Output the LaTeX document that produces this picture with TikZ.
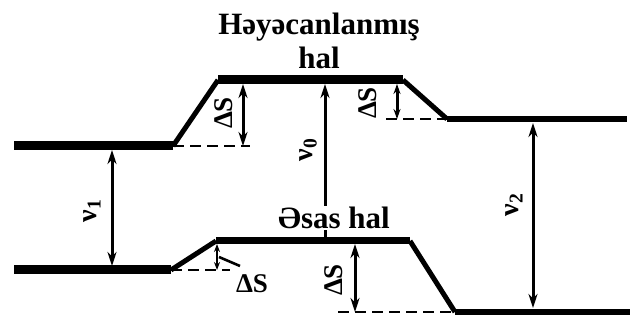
\documentclass[tikz,border=0pt]{standalone}
\usepackage{fontspec}
\setmainfont{Liberation Serif}
\usetikzlibrary{arrows.meta}
\begin{document}
\begin{tikzpicture}[x=1pt,y=-1pt,
  level/.style={line width=9pt},
  slope/.style={line width=5pt},
  dashline/.style={line width=2.6pt,dash pattern=on 11pt off 6pt},
  arr/.style={line width=3pt,-{Stealth[length=14pt,width=9pt]}},
  darr/.style={line width=3pt,{Stealth[length=14pt,width=9pt]}-{Stealth[length=14pt,width=9pt]}},
  big/.style={font=\fontsize{31}{33}\selectfont\bfseries},
  lab/.style={font=\fontsize{27}{30}\selectfont\bfseries,inner sep=0pt},
  nulab/.style={font=\fontsize{28}{30}\selectfont\bfseries,inner sep=0pt}]
\useasboundingbox (0,0) rectangle (630,320);
\coordinate (A1) at (14,146); \coordinate (A2) at (173,146);
\coordinate (B1) at (218,80);  \coordinate (B2) at (403,80);
\coordinate (C1) at (447,119); \coordinate (C2) at (627,119);
\coordinate (D1) at (14,270);  \coordinate (D2) at (171,270);
\coordinate (E1) at (216,241); \coordinate (E2) at (410,241);
\coordinate (F1) at (455,312); \coordinate (F2) at (630,312);
% levels
\draw[level] (A1) -- (A2);
\draw[slope] (A2) -- (B1);
\draw[level] (B1) -- (B2);
\draw[slope] (B2) -- (C1);
\draw[line width=6.5pt] (C1) -- (C2);
\draw[level] (D1) -- (D2);
\draw[slope] (D2) -- (E1);
\draw[line width=7pt] (E1) -- (E2);
\draw[slope] (E2) -- (F1);
\draw[line width=6.5pt] (F1) -- (F2);
% dashed reference lines
\coordinate (a3) at (250,146);
\coordinate (c0) at (386,119);
\coordinate (d3) at (230,270);
\coordinate (f0) at (338,312);
\draw[dashline] (A2) -- (a3);
\draw[dashline] (c0) -- (C1);
\draw[dashline] (D2) -- (d3);
\draw[dashline] (f0) -- (F1);
% Delta S arrows
\coordinate (s1t) at (243,84); \coordinate (s1b) at (243,146);
\coordinate (s2t) at (397,84); \coordinate (s2b) at (397,119);
\coordinate (s3t) at (217,244); \coordinate (s3b) at (217,270);
\coordinate (s4t) at (355,244); \coordinate (s4b) at (355,312);
\draw[darr] (s1t) -- (s1b);
\draw[line width=3pt,{Stealth[length=10pt,width=7pt]}-{Stealth[length=10pt,width=7pt]}] (s2t) -- (s2b);
\draw[line width=2.4pt,{Stealth[length=8pt,width=6pt]}-{Stealth[length=8pt,width=6pt]}] (s3t) -- (s3b);
\draw[darr] (s4t) -- (s4b);
% nu arrows
\coordinate (n0b) at (325,241); \coordinate (n0t) at (325,84);
\coordinate (n1t) at (112,150); \coordinate (n1b) at (112,266);
\coordinate (n2t) at (533,123); \coordinate (n2b) at (533,308);
\draw[arr] (n0b) -- (n0t);
\draw[darr] (n1t) -- (n1b);
\draw[darr] (n2t) -- (n2b);
% texts
\node[big] (t1) at (319,27) {Həyəcanlanmış};
\node[big] (t2) at (319,58) {hal};
\node[big,fill=white,inner sep=1pt] (t3) at (334,218) {Əsas hal};
\node[lab,rotate=90] (l1) at (224,113) {ΔS};
\node[lab,rotate=90] (l2) at (368,103) {ΔS};
\node[lab,rotate=90] (l4) at (334,280) {ΔS};
\node[lab] (l3) at (252,284) {ΔS};
\coordinate (ld1) at (219,257); \coordinate (ld2) at (240,266);
\draw[line width=2.6pt] (ld1) -- (ld2);
\node[nulab,rotate=90] (v0) at (308,150) {ν\textsubscript{0}};
\node[nulab,rotate=90] (v1) at (92,211) {ν\textsubscript{1}};
\node[nulab,rotate=90] (v2) at (514,205) {ν\textsubscript{2}};
\end{tikzpicture}
\end{document}
